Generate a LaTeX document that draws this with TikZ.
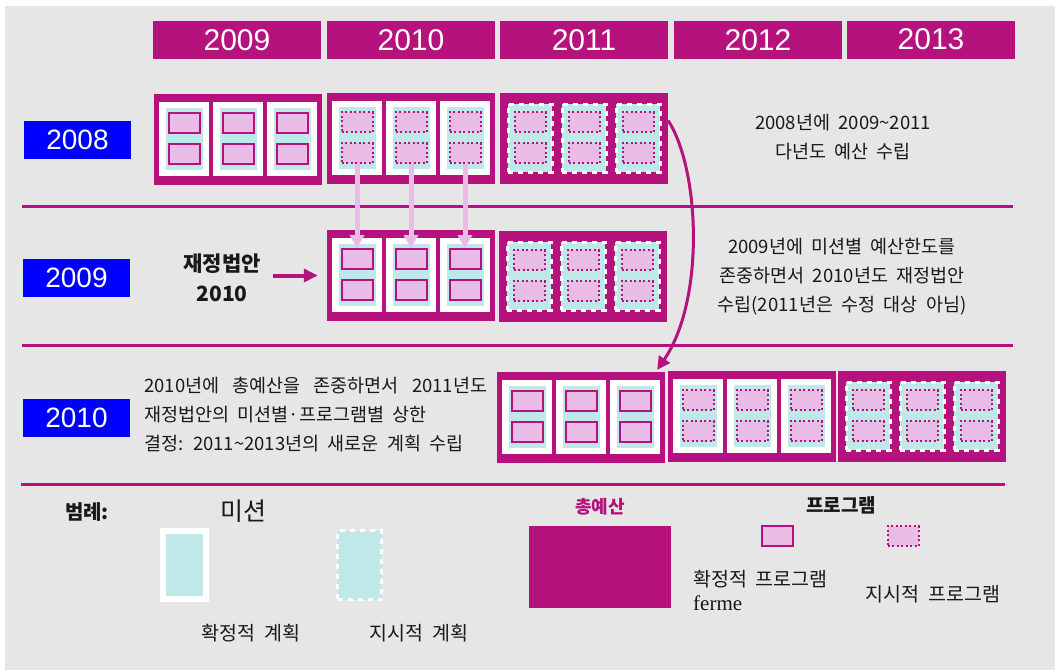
\documentclass[tikz,border=0pt]{standalone}
\usepackage{fontspec}
\setmainfont{Liberation Sans}
\newfontfamily\kr{Noto Sans CJK KR}[WordSpace=2]
\newfontfamily\serif{Liberation Serif}
\usetikzlibrary{arrows.meta,calc}
\definecolor{mag}{RGB}{181,18,126}
\definecolor{cyanL}{RGB}{191,232,232}
\definecolor{pinkL}{RGB}{233,188,230}
\definecolor{bgG}{RGB}{230,230,230}
\definecolor{lblue}{RGB}{0,0,255}
\definecolor{ink}{RGB}{25,25,25}
\tikzset{
  yearhead/.style={fill=mag, text=white, inner sep=0, minimum width=168, minimum height=38, font=\fontsize{30}{34}\selectfont},
  rowlabel/.style={fill=lblue, text=white, inner sep=0, minimum width=107, minimum height=38, font=\fontsize{28}{32}\selectfont},
  tb/.style={fill=mag, inner sep=0, minimum width=168, minimum height=91},
  whitecard/.style={fill=white, inner sep=0, minimum width=50, minimum height=74},
  nocard/.style={inner sep=0, minimum size=0},
  firmmis/.style={fill=cyanL, inner sep=0, minimum width=37, minimum height=62},
  indmis/.style={fill=cyanL, draw=white, line width=3, dash pattern=on 5pt off 5pt, inner sep=0, minimum width=44, minimum height=68},
  firmprog/.style={fill=pinkL, draw=mag, line width=2, inner sep=0, minimum width=31, minimum height=20},
  indprog/.style={fill=pinkL, draw=mag, line width=2, dash pattern=on 2pt off 2.5pt, inner sep=0, minimum width=31, minimum height=20},
  sepline/.style={draw=mag, line width=3},
  pinkarrow/.style={draw=pinkL, line width=5, -{Triangle[width=14pt,length=13pt]}},
  magarrow/.style={draw=mag, line width=3, -{Triangle[width=13pt,length=13pt]}},
  txt/.style={inner sep=0, text=ink, font=\kr\fontsize{18.5}{29}\selectfont, align=center},
  legtxt/.style={txt, font=\kr\fontsize{19.5}{24}\selectfont},
}
\newcommand\bblock[6]{%
  \node[tb] (#1) at ({#2+84},{#3+45.5}) {};
  \foreach \i in {1,2,3}{
    \pgfmathsetmacro\cx{#2+30+54*(\i-1)}
    \node[#4] (#1-c\i) at (\cx,{#3+45}) {};
    \node[#5] (#1-m\i) at (\cx,{#3+45}) {};
    \node[#6] (#1-p\i-1) at (\cx,{#3+29}) {};
    \node[#6] (#1-p\i-2) at (\cx,{#3+60}) {};
  }
}
\begin{document}
\begin{tikzpicture}[x=1pt,y=-1pt]
\useasboundingbox (0,0) rectangle (1055,670);
\fill[white] (0,0) rectangle (1055,670);
\fill[bgG] (5,6) rectangle (1055,670);

% year headers
\node[yearhead] (h2009) at (237,40) {2009};
\node[yearhead] (h2010) at (411,40) {2010};
\node[yearhead] (h2011) at (584,40) {2011};
\node[yearhead] (h2012) at (758,40) {2012};
\node[yearhead] (h2013) at (931,39.5) {2013};

% row labels
\node[rowlabel] (r2008) at (77.5,140) {2008};
\node[rowlabel] (r2009) at (76.5,277.5) {2009};
\node[rowlabel] (r2010) at (76.5,417.5) {2010};

% separators
\draw[sepline] (22,206) -- (1013,206);
\draw[sepline] (22,345) -- (1013,345);
\draw[sepline] (21,484) -- (1005,484);

% blocks
\bblock{b08a}{154}{94}{whitecard}{firmmis}{firmprog}
\bblock{b08b}{327}{93}{whitecard}{firmmis}{indprog}
\bblock{b08c}{500}{93}{nocard}{indmis}{indprog}
\bblock{b09a}{327}{230}{whitecard}{firmmis}{firmprog}
\bblock{b09b}{499}{231}{nocard}{indmis}{indprog}
\bblock{b10a}{497}{372}{whitecard}{firmmis}{firmprog}
\bblock{b10b}{668}{371}{whitecard}{firmmis}{indprog}
\bblock{b10c}{838}{371}{nocard}{indmis}{indprog}

% pink arrows
\foreach \i in {1,2,3}{
  \draw[pinkarrow] (b08b-p\i-2.south) -- (b09a-p\i-1.north);
}

% curved arrow
\draw[magarrow] ([yshift=18pt]b08c.east) .. controls (700,170) and (705,300) .. ([xshift=-8pt,yshift=2pt]b10a.north east);

% finance bill
\node[txt, font=\kr\bfseries\fontsize{21}{30}\selectfont] (jb) at (222,278) {재정법안\\2010};
\draw[draw=mag, line width=4, -{Triangle[width=13pt,length=14pt]}] ($(jb.east |- b09a.west)+(12,0)$) -- ([xshift=-9pt]b09a.west);

% texts
\node[txt] (t08) at (843,137) {2008년에 2009\textasciitilde2011\\다년도 예산 수립};
\node[txt] (t09) at (842,277) {2009년에 미션별 예산한도를\\존중하면서 2010년도 재정법안\\수립(2011년은 수정 대상 아님)};
\node[txt, align=left, anchor=west] (t10) at (144,415) {\hbox to 343pt{2010년에\hfil 총예산을\hfil 존중하면서\hfil 2011년도}\\재정법안의 미션별·프로그램별 상한\\결정: 2011\textasciitilde2013년의 새로운 계획 수립};

% legend
\node[txt, font=\kr\bfseries\fontsize{20}{24}\selectfont] (leg) at (87,512) {범례:};
\node[txt, font=\kr\fontsize{25}{30}\selectfont] (legmis) at (243,511) {미션};
\node[whitecard, minimum width=49] (legFc) at (184.5,565) {};
\node[firmmis] (legFm) at (184.5,565) {};
\node[indmis, minimum height=69] (legIm) at (359.5,565) {};
\node[legtxt] (legFt) at (251,633) {확정적 계획};
\node[legtxt] (legIt) at (419,633) {지시적 계획};
\node[txt, text=mag, font=\kr\bfseries\fontsize{18}{22}\selectfont] (legtb) at (600,507) {총예산};
\node[tb, minimum width=142, minimum height=82] (legtbr) at (600,567) {};
\node[txt, font=\kr\bfseries\fontsize{19}{23}\selectfont] (legprog) at (841,505) {프로그램};
\node[firmprog] (legPF) at (777.5,536) {};
\node[indprog] (legPI) at (903,536) {};
\node[legtxt, anchor=west] (legPFt) at (693,579) {확정적 프로그램};
\node[txt, anchor=west, font=\serif\fontsize{21}{24}\selectfont] (legferme) at (693,603) {ferme};
\node[legtxt] (legPIt) at (933,594) {지시적 프로그램};
\end{tikzpicture}
\end{document}
